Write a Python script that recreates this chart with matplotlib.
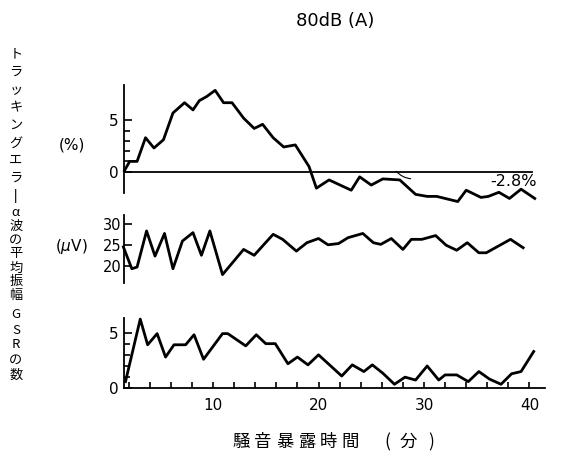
import matplotlib
matplotlib.use("Agg")
import matplotlib.pyplot as plt
from matplotlib.ticker import FixedLocator, MultipleLocator

# トラッキングエラー (%)
err_t = [1.6, 2.1, 2.8, 3.6, 4.4, 5.3, 6.2, 7.3, 8.1, 8.7, 9.4, 10.2, 11.0, 11.8,
         12.9, 13.9, 14.7, 15.7, 16.7, 17.8, 19.1, 19.8, 21.0, 23.1, 23.9, 25.0,
         26.1, 27.7, 29.2, 30.3, 31.2, 33.2, 34.0, 35.4, 36.1, 37.1, 38.1, 39.2, 40.5]
err_v = [0.1, 1.0, 1.0, 3.3, 2.3, 3.1, 5.7, 6.7, 6.0, 6.9, 7.3, 7.9, 6.7, 6.7,
         5.2, 4.2, 4.6, 3.3, 2.4, 2.6, 0.5, -1.6, -0.8, -1.8, -0.5, -1.3,
         -0.7, -0.8, -2.2, -2.4, -2.4, -2.9, -1.8, -2.5, -2.4, -2.0, -2.6, -1.7, -2.6]

# α波の平均振幅 (μV)
alpha_t = [1.5, 2.3, 2.8, 3.7, 4.5, 5.4, 6.2, 7.1, 8.1, 8.9, 9.7, 10.9, 12.9, 13.9,
           15.7, 16.6, 17.9, 18.9, 20.0, 20.9, 21.9, 22.8, 24.2, 25.2, 25.9, 26.9,
           28.0, 28.8, 29.8, 31.1, 32.1, 33.1, 34.1, 35.2, 35.9, 38.2, 39.4]
alpha_v = [24.6, 19.4, 19.8, 28.4, 22.4, 27.8, 19.4, 26.0, 28.0, 22.6, 28.4, 18.0,
           24.0, 22.6, 27.6, 26.4, 23.6, 25.6, 26.6, 25.1, 25.4, 26.8, 27.8, 25.6,
           25.2, 26.6, 24.0, 26.4, 26.4, 27.3, 25.0, 23.8, 25.6, 23.2, 23.2, 26.4, 24.4]

# GSRの数
gsr_t = [1.7, 3.1, 3.8, 4.7, 5.5, 6.3, 7.4, 8.2, 9.1, 10.9, 11.4, 13.1, 14.1, 15.0,
         15.9, 17.1, 18.0, 19.0, 20.0, 22.2, 23.2, 24.3, 25.1, 26.1, 27.2, 28.2,
         29.2, 30.3, 31.4, 32.0, 33.1, 34.2, 35.2, 36.2, 37.3, 38.3, 39.2, 40.4]
gsr_v = [0.6, 6.2, 3.9, 4.9, 2.8, 3.9, 3.9, 4.8, 2.6, 4.9, 4.9, 3.8, 4.8, 4.0,
         4.0, 2.2, 2.8, 2.1, 3.0, 1.1, 2.1, 1.5, 2.1, 1.35, 0.36, 1.0,
         0.74, 2.0, 0.74, 1.2, 1.2, 0.6, 1.5, 0.83, 0.36, 1.3, 1.5, 3.3]

x_ticks = [10, 20, 30, 40]
XLIM = (1.56, 41.47)

W, H = 561, 467
fig = plt.figure(figsize=(W / 100, H / 100), dpi=100)
jp = "Noto Sans CJK JP"


def box(x0, y0, x1, y1):
    return [x0 / W, 1 - y1 / H, (x1 - x0) / W, (y1 - y0) / H]


def fxy(x, y):
    return x / W, 1 - y / H


def style(ax):
    for s in ["top", "right", "bottom"]:
        ax.spines[s].set_visible(False)
    ax.spines["left"].set_linewidth(1.3)
    ax.set_xlim(*XLIM)
    ax.set_xticks([])
    ax.tick_params(axis="y", which="both", direction="in", width=1.2,
                   labelsize=11, pad=4)
    ax.tick_params(axis="y", which="major", length=6)
    ax.tick_params(axis="y", which="minor", length=4)
    ax.patch.set_alpha(0)


lw = 2.0

ax1 = fig.add_axes(box(124, 85, 545, 193))
style(ax1)
ax1.set_ylim(-2.07, 8.42)
ax1.yaxis.set_major_locator(FixedLocator([0, 5]))
ax1.yaxis.set_minor_locator(FixedLocator([1, 2, 3, 4]))
ax1.axhline(0, xmax=(40.2 - XLIM[0]) / (XLIM[1] - XLIM[0]), color="black", lw=1.3)
ax1.plot(err_t, err_v, color="black", lw=lw, clip_on=False)
ax1.text(40.7, -1.0, "-2.8%", ha="right", va="center", fontsize=11.5)
ax1.annotate("", xy=(29.0, -0.7), xytext=(27.2, 0.25),
             arrowprops=dict(arrowstyle="-", lw=0.8,
                             connectionstyle="arc3,rad=0.25"))

ax2 = fig.add_axes(box(124, 215, 545, 283))
style(ax2)
ax2.set_ylim(16.0, 32.2)
ax2.yaxis.set_major_locator(FixedLocator([20, 25, 30]))
ax2.tick_params(axis="y", labelsize=10.5, pad=2)
ax2.plot(alpha_t, alpha_v, color="black", lw=lw, clip_on=False)

ax3 = fig.add_axes(box(124, 318, 545, 388.3))
style(ax3)
ax3.spines["bottom"].set_visible(True)
ax3.spines["bottom"].set_linewidth(1.3)
ax3.set_ylim(0, 6.3)
ax3.yaxis.set_major_locator(FixedLocator([0, 5]))
ax3.yaxis.set_minor_locator(FixedLocator([1, 2, 3, 4]))
ax3.set_xticks(x_ticks)
ax3.xaxis.set_minor_locator(MultipleLocator(2))
ax3.tick_params(axis="x", which="both", direction="in", length=4, width=1.2,
                labelsize=11, pad=7)
ax3.plot(gsr_t, gsr_v, color="black", lw=lw, clip_on=False)

# タイトルと単位
fig.text(*fxy(335, 21), "80dB (A)", ha="center", va="center", fontsize=13)
fig.text(*fxy(72, 145), "(%)", ha="center", va="center", fontsize=11)
fig.text(*fxy(71, 246), r"($\mu$V)", ha="center", va="center", fontsize=11)

# 縦書きの軸名
groups = [("トラッキングエラ|", 55, 196), ("α波の平均振幅", 212, 296),
          ("GSRの数", 315, 375)]
for chars, y0, y1 in groups:
    step = (y1 - y0) / (len(chars) - 1)
    for i, ch in enumerate(chars):
        bar = ch == "|"
        fig.text(*fxy(16, y0 + i * step), ch, ha="center", va="center",
                 fontsize=8 if bar else 9.5, weight="bold" if bar else "normal",
                 family=[jp, "DejaVu Sans"])

# 横軸名
for i, ch in enumerate("騒音暴露時間"):
    fig.text(*fxy(241 + i * 21.8, 442), ch, ha="center", va="center",
             fontsize=12.5, family=jp)
for x, ch in [(387, "("), (408, "分"), (431, ")")]:
    fig.text(*fxy(x, 442), ch, ha="center", va="center", fontsize=12.5, family=jp)

fig.savefig("out.png", dpi=100)
